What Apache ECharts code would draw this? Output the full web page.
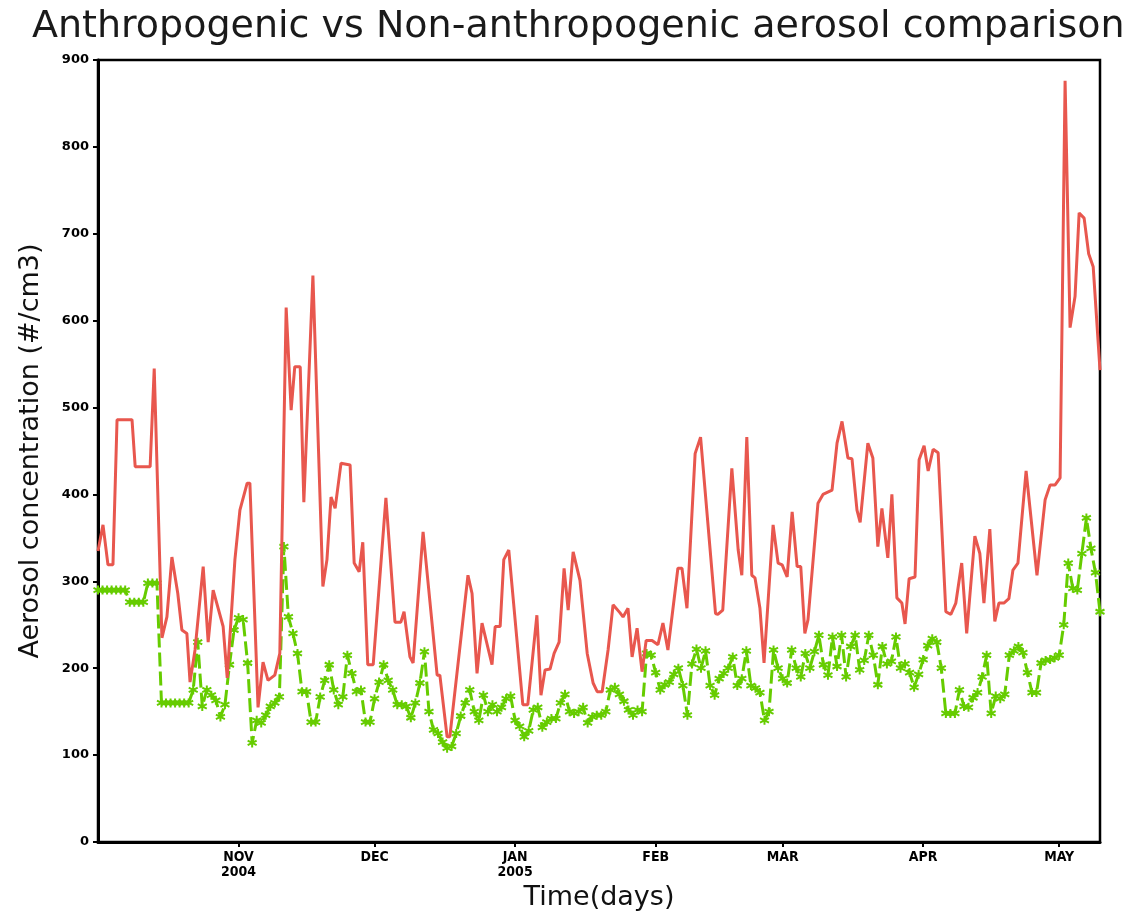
<!DOCTYPE html>
<html>
<head>
<meta charset="utf-8">
<script src="https://cdn.jsdelivr.net/npm/echarts@6/dist/echarts.min.js"></script>
<style>
  html, body { margin: 0; padding: 0; background: #fff; }
  #chart { width: 1147px; height: 914px; }
</style>
</head>
<body>
<div id="chart"></div>
<script>
// days counted from 1 Oct 2004
var monthDays = [31, 61, 92, 123, 151, 182, 212];
var monthLabels = ['NOV\n2004', 'DEC', 'JAN\n2005', 'FEB', 'MAR', 'APR', 'MAY'];
var yTicks = [0, 100, 200, 300, 400, 500, 600, 700, 800, 900];

// anthropogenic (red line), vertices
var redDay = [0, 1.1, 2.2, 3.3, 4.2, 7.5, 8.2, 11.5, 12.4, 14.1, 15.2, 16.3, 17.6, 18.5, 19.6, 20.3, 21.4, 23.2, 24.3, 25.4,
  27.6, 28.5, 30.2, 31.3, 32.9, 33.5, 35.3, 36.4, 37.5, 39, 40.1, 41.5, 42.6, 43.4, 44.6, 45.4, 47.4, 49.6, 50.5, 51.4,
  52.3, 53.6, 55.6, 56.5, 57.6, 58.4, 59.5, 60.7, 63.5, 65.5, 66.8, 67.5, 68.8, 69.5, 71.7, 74.8, 75.4, 77, 77.6, 81.6,
  82.5, 83.6, 84.7, 86.9, 87.6, 88.7, 89.5, 90.6, 93.7, 94.8, 96.8, 97.7, 98.6, 99.7, 100.6, 101.7, 102.8, 103.7, 104.8, 106.3,
  107.9, 109.2, 110.1, 111.2, 112.5, 113.6, 115.1, 115.8, 116.9, 117.8, 118.9, 120, 120.9, 122.2, 123.5, 124.6, 125.7, 127.9, 128.8, 129.9,
  131.7, 132.9, 136.2, 136.7, 137.8, 139.8, 141.2, 142, 143.1, 144.2, 144.9, 146, 146.9, 148.9, 150, 150.9, 152, 153.1, 154.2, 155,
  155.9, 156.6, 158.8, 159.9, 161.9, 163, 164.1, 165.4, 166.3, 167.4, 168.1, 169.8, 170.9, 172, 172.9, 174.2, 175.1, 176.2, 177.3, 178,
  178.9, 180.2, 181.1, 182.2, 183.1, 184.2, 185.3, 187, 188.1, 189.2, 190.5, 191.6, 193.4, 194.5, 195.4, 196.7, 197.8, 198.7, 199.8, 200.9,
  201.8, 202.9, 204.7, 207.1, 208.9, 210, 211.1, 212.2, 213.3, 214.4, 215.5, 216.4, 217.5, 218.5, 219.5, 221];
var redValue = [335, 365, 319, 319, 486, 486, 432, 432, 545, 235, 259, 328, 286, 244, 240, 184, 221, 317, 230, 290,
  248, 189, 325, 382, 413, 413, 155, 207, 186, 192, 217, 615, 497, 547, 547, 391, 652, 294, 325, 397,
  384, 436, 434, 321, 311, 345, 204, 204, 396, 253, 253, 265, 213, 206, 357, 192, 192, 121, 121, 307,
  286, 194, 252, 204, 248, 248, 325, 336, 158, 158, 261, 169, 198, 199, 217, 230, 315, 267, 334, 301,
  217, 183, 173, 173, 221, 273, 264, 259, 269, 213, 246, 196, 232, 232, 227, 252, 221, 315, 315, 269,
  447, 466, 263, 262, 267, 430, 336, 307, 466, 307, 304, 269, 206, 365, 321, 319, 305, 380, 317, 317,
  240, 256, 390, 400, 405, 459, 484, 442, 441, 382, 368, 459, 442, 340, 384, 327, 400, 281, 275, 251,
  303, 305, 440, 456, 427, 452, 448, 265, 262, 275, 321, 240, 352, 332, 275, 360, 254, 275, 275, 280,
  313, 321, 427, 307, 394, 411, 411, 419, 876, 592, 628, 724, 718, 677, 662, 543];

// non-anthropogenic (green dashed, one marker per day, day 0..221)
var greenValue = [
  290, 290, 290, 290, 290, 290, 290, 276, 276, 276,
  276, 298, 298, 298, 160, 160, 160, 160, 160, 160,
  160, 175, 230, 156, 175, 169, 163, 144, 158, 204,
  244, 258, 256, 206, 114, 140, 137, 146, 156, 160,
  167, 340, 259, 240, 217, 173, 173, 138, 138, 167,
  186, 204, 175, 158, 167, 215, 194, 173, 175, 138,
  138, 165, 184, 204, 186, 175, 158, 158, 156, 143,
  160, 183, 219, 150, 129, 125, 115, 108, 110, 125,
  145, 160, 175, 150, 140, 169, 150, 158, 150, 155,
  165, 168, 140, 133, 121, 128, 152, 155, 132, 138,
  142, 142, 160, 170, 150, 148, 150, 155, 137, 144,
  146, 146, 150, 175, 178, 170, 162, 152, 146, 152,
  150, 217, 215, 195, 175, 181, 184, 193, 200, 180,
  146, 205, 222, 200, 220, 180, 169, 188, 194, 200,
  213, 180, 188, 220, 180, 177, 172, 140, 150, 221,
  200, 188, 183, 221, 200, 190, 217, 200, 219, 238,
  204, 192, 236, 202, 238, 190, 225, 238, 198, 209,
  238, 215, 181, 225, 205, 208, 236, 200, 205, 195,
  178, 193, 210, 226, 234, 230, 200, 148, 148, 148,
  175, 156, 155, 166, 172, 190, 215, 148, 168, 165,
  170, 215, 220, 225, 218, 195, 172, 172, 206, 209,
  210, 212, 215, 250, 321, 292, 290, 332, 373, 338,
  310, 265
];

var redData = [];
for (var i = 0; i < redDay.length; i++) {
  redData.push([redDay[i], redValue[i]]);
}
var greenData = [];
for (var j = 0; j < greenValue.length; j++) {
  greenData.push([j, greenValue[j]]);
}

var labelFont = '"DejaVu Sans Condensed", "DejaVu Sans", sans-serif';
var asterisk = 'path://M5,0L5,10M0.7,2.5L9.3,7.5M0.7,7.5L9.3,2.5';

var chart = echarts.init(document.getElementById('chart'));
chart.setOption({
  animation: false,
  backgroundColor: '#fff',
  title: {
    text: 'Anthropogenic vs Non-anthropogenic aerosol comparison',
    left: 27,
    top: 3,
    textStyle: {
      fontFamily: '"DejaVu Sans", sans-serif',
      fontSize: 38,
      fontWeight: 'normal',
      color: '#1a1a1a'
    }
  },
  grid: {
    left: 98,
    right: 47,
    top: 60,
    bottom: 72,
    outerBoundsMode: 'none',
    containLabel: false,
    show: true,
    borderColor: '#000',
    borderWidth: 2.5,
    backgroundColor: '#fff'
  },
  xAxis: {
    type: 'value',
    min: 0,
    max: 221,
    name: 'Time(days)',
    nameLocation: 'middle',
    nameGap: 33,
    nameTextStyle: {fontFamily: '"DejaVu Sans", sans-serif', fontSize: 27, color: '#111'},
    axisLine: {show: true, lineStyle: {color: '#000', width: 3}},
    axisTick: {show: true, customValues: monthDays, length: 5, lineStyle: {color: '#000', width: 2}},
    axisLabel: {
      customValues: monthDays,
      margin: 8,
      fontFamily: labelFont,
      fontWeight: 'bold',
      fontSize: 14,
      lineHeight: 15,
      color: '#000',
      formatter: function (v) {
        var k = monthDays.indexOf(Math.round(v));
        return k >= 0 ? monthLabels[k] : '';
      }
    },
    splitLine: {show: false}
  },
  yAxis: {
    type: 'value',
    min: yTicks[0],
    max: yTicks[yTicks.length - 1],
    interval: 100,
    name: 'Aerosol concentration (#/cm3)',
    nameLocation: 'middle',
    nameGap: 54,
    nameTextStyle: {fontFamily: '"DejaVu Sans", sans-serif', fontSize: 27, color: '#111'},
    axisLine: {show: true, lineStyle: {color: '#000', width: 3}},
    axisTick: {show: true, length: 5, lineStyle: {color: '#000', width: 2}},
    axisLabel: {
      margin: 9,
      fontFamily: '"DejaVu Sans", sans-serif',
      fontWeight: 'bold',
      fontSize: 13,
      color: '#000'
    },
    splitLine: {show: false}
  },
  series: [
    {
      name: 'Anthropogenic',
      type: 'line',
      data: redData,
      showSymbol: false,
      symbol: 'none',
      lineStyle: {color: '#e8574e', width: 3},
      z: 3
    },
    {
      name: 'Non-anthropogenic',
      type: 'line',
      data: greenData,
      symbol: asterisk,
      symbolSize: 9,
      itemStyle: {color: '#66cc00', borderColor: '#66cc00', borderWidth: 2},
      lineStyle: {color: '#66cc00', width: 3, type: [14, 5]},
      z: 2
    }
  ]
});
</script>
</body>
</html>
